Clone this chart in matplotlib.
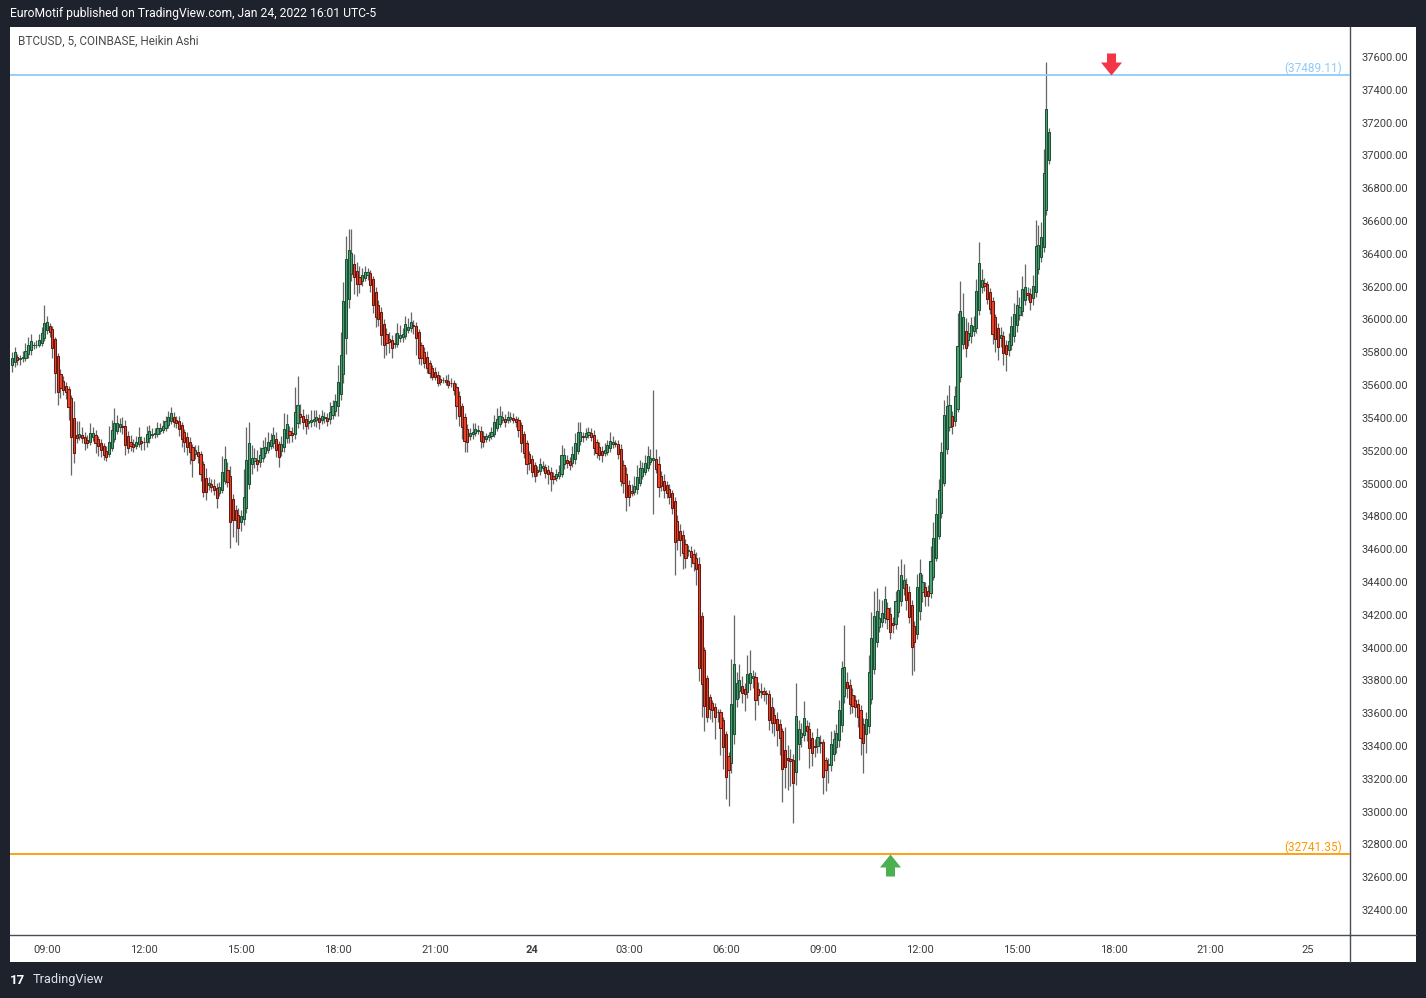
import numpy as np
import pandas as pd
import matplotlib
matplotlib.use('Agg')
import matplotlib.pyplot as plt
from matplotlib.path import Path
from matplotlib.patches import Rectangle
from matplotlib.lines import Line2D
import matplotlib.transforms as mtransforms

plt.rcParams['font.family'] = ['Roboto', 'DejaVu Sans']

# BTCUSD 5 min Heikin Ashi closes, first candle Jan 23 07:55 (one row = one hour)
ha_close = [
    35763, 35800, 35752, 35763, 35770, 35807, 35844, 35870, 35844, 35844, 35874, 35917,
    35978, 35984, 35923, 35825, 35673, 35557, 35581, 35569, 35557, 35465, 35282, 35185,
    35276, 35301, 35276, 35246, 35246, 35307, 35307, 35246, 35228, 35203, 35173, 35160,
    35252, 35325, 35368, 35368, 35362, 35343, 35233, 35215, 35228, 35221, 35252, 35282,
    35246, 35252, 35301, 35319, 35301, 35307, 35337, 35337, 35349, 35380, 35404, 35429,
    35374, 35368, 35331, 35270, 35252, 35221, 35191, 35142, 35203, 35167, 35057, 34947,
    34947, 35002, 34978, 34959, 34910, 34978, 35069, 35148, 35008, 34764, 34776, 34776,
    34727, 34801, 34917, 35142, 35245, 35153, 35155, 35117, 35174, 35214, 35224, 35255,
    35265, 35296, 35204, 35163, 35239, 35330, 35363, 35296, 35296, 35438, 35477, 35403,
    35373, 35350, 35381, 35387, 35391, 35407, 35373, 35411, 35403, 35383, 35438, 35472,
    35503, 35620, 35783, 36111, 36367, 36424, 36403, 36257, 36214, 36214, 36271, 36287,
    36291, 36210, 36088, 36013, 36001, 35905, 35844, 35855, 35865, 35824, 35855, 35919,
    35905, 35909, 35972, 35956, 35986, 35960, 35885, 35767, 35763, 35733, 35702, 35672,
    35651, 35651, 35615, 35621, 35631, 35621, 35600, 35611, 35570, 35474, 35413, 35342,
    35261, 35251, 35306, 35316, 35330, 35326, 35259, 35255, 35289, 35296, 35316, 35377,
    35391, 35411, 35403, 35377, 35403, 35403, 35387, 35377, 35326, 35245, 35188, 35117,
    35123, 35072, 35047, 35068, 35117, 35107, 35066, 35058, 35025, 35025, 35056, 35072,
    35174, 35174, 35123, 35113, 35180, 35245, 35316, 35316, 35285, 35306, 35316, 35281,
    35214, 35188, 35174, 35174, 35204, 35235, 35261, 35251, 35241, 35180, 35017, 35001,
    34920, 34920, 34944, 34985, 35041, 35092, 35092, 35123, 35167, 35153, 35153, 35086,
    34977, 34985, 34960, 34944, 34915, 34852, 34645, 34655, 34655, 34578, 34547, 34594,
    34553, 34517, 34480, 33877, 33775, 33643, 33578, 33623, 33619, 33574, 33608, 33507,
    33391, 33208, 33253, 33653, 33897, 33781, 33801, 33724, 33714, 33836, 33846, 33826,
    33680, 33710, 33734, 33714, 33714, 33558, 33541, 33543, 33497, 33446, 33261, 33273,
    33314, 33308, 33172, 33582, 33501, 33480, 33572, 33492, 33385, 33355, 33395, 33452,
    33419, 33208, 33253, 33288, 33411, 33440, 33476, 33619, 33877, 33879, 33751, 33655,
    33643, 33639, 33578, 33446, 33416, 33564, 33852, 34056, 34192, 34224, 34178, 34212,
    34294, 34172, 34093, 34137, 34285, 34350, 34442, 34411, 34289, 34187, 34004, 34035,
    34367, 34452, 34401, 34316, 34316, 34529, 34666, 34814, 34960, 35190, 35418, 35472,
    35478, 35352, 35533, 35838, 36052, 36013, 35824, 35916, 35966, 35960, 36174, 36342,
    36240, 36206, 36125, 36062, 35910, 35879, 35834, 35905, 35794, 35788, 35869, 35960,
    36031, 36088, 36078, 36186, 36200, 36149, 36108, 36204, 36448, 36454, 36505, 36892,
    37282, 37145,
]
first_open = 35720

# wick length above / below the candle body, in USD
upper_wick = [
    40, 30, 20, 20, 40, 50, 50, 40, 20, 30, 40, 40,
    110, 40, 20, 20, 10, 20, 30, 30, 20, 20, 20, 100,
    90, 80, 50, 30, 30, 60, 40, 30, 20, 20, 20, 30,
    100, 60, 90, 50, 40, 50, 40, 30, 40, 30, 40, 60,
    30, 30, 50, 40, 40, 30, 40, 30, 40, 30, 40, 40,
    30, 20, 30, 20, 20, 30, 30, 20, 30, 40, 20, 20,
    60, 40, 30, 40, 30, 30, 100, 80, 50, 60, 30, 30,
    40, 40, 170, 200, 130, 80, 60, 60, 50, 50, 60, 60,
    40, 50, 40, 20, 50, 100, 60, 30, 40, 150, 180, 60,
    40, 30, 40, 60, 60, 40, 30, 40, 30, 30, 60, 40,
    40, 100, 140, 120, 140, 130, 150, 60, 50, 70, 40, 40,
    20, 20, 20, 30, 30, 30, 30, 40, 40, 30, 60, 60,
    60, 40, 50, 50, 60, 30, 20, 20, 20, 30, 40, 20,
    20, 30, 20, 20, 20, 30, 40, 30, 20, 20, 30, 20,
    20, 30, 30, 50, 40, 30, 30, 30, 20, 20, 30, 40,
    70, 60, 40, 30, 40, 30, 30, 20, 20, 20, 20, 20,
    20, 20, 20, 30, 40, 30, 20, 30, 30, 20, 30, 40,
    60, 40, 30, 30, 50, 60, 60, 60, 30, 30, 30, 30,
    30, 20, 30, 30, 40, 30, 50, 40, 20, 20, 30, 30,
    40, 30, 40, 60, 70, 50, 40, 50, 60, 60, 420, 60,
    50, 30, 40, 30, 30, 20, 20, 40, 40, 30, 30, 30,
    30, 30, 40, 40, 20, 20, 20, 20, 20, 20, 20, 20,
    20, 20, 20, 280, 300, 70, 100, 60, 40, 120, 140, 40,
    30, 40, 50, 30, 20, 20, 60, 40, 40, 30, 20, 140,
    80, 60, 40, 200, 60, 60, 100, 40, 40, 40, 40, 60,
    40, 20, 20, 40, 80, 60, 60, 60, 40, 260, 60, 40,
    40, 30, 30, 30, 40, 40, 100, 160, 150, 140, 120, 80,
    80, 40, 40, 40, 60, 150, 100, 100, 40, 40, 30, 30,
    80, 90, 50, 30, 40, 90, 100, 100, 70, 60, 90, 70,
    120, 30, 60, 200, 180, 150, 80, 70, 50, 60, 70, 130,
    70, 30, 20, 20, 20, 20, 30, 50, 30, 30, 50, 60,
    70, 90, 60, 80, 140, 40, 40, 70, 160, 120, 90, 150,
    290, 20,
]
lower_wick = [
    40, 30, 30, 40, 20, 20, 20, 30, 20, 20, 10, 20,
    20, 20, 30, 60, 120, 80, 60, 30, 40, 80, 230, 60,
    30, 20, 30, 40, 30, 20, 20, 60, 60, 40, 30, 20,
    20, 20, 20, 20, 30, 40, 60, 30, 30, 30, 20, 20,
    40, 50, 30, 30, 20, 20, 20, 20, 20, 20, 20, 20,
    30, 30, 40, 50, 60, 50, 70, 100, 30, 40, 40, 30,
    50, 30, 30, 30, 60, 20, 20, 20, 30, 160, 100, 130,
    100, 60, 40, 30, 30, 60, 40, 40, 30, 20, 20, 20,
    20, 30, 40, 60, 30, 30, 30, 50, 40, 30, 30, 40,
    40, 50, 40, 30, 30, 40, 40, 20, 30, 30, 30, 20,
    30, 60, 40, 50, 100, 60, 40, 100, 70, 50, 30, 20,
    30, 40, 50, 60, 40, 60, 80, 70, 70, 60, 20, 20,
    20, 30, 20, 20, 20, 50, 100, 40, 40, 30, 30, 30,
    20, 20, 20, 20, 20, 20, 20, 20, 30, 80, 60, 70,
    70, 60, 30, 30, 20, 20, 40, 30, 20, 20, 20, 20,
    20, 20, 20, 30, 20, 20, 20, 30, 40, 50, 30, 60,
    40, 30, 40, 20, 20, 20, 30, 60, 70, 30, 20, 20,
    20, 30, 30, 30, 20, 30, 20, 20, 30, 20, 20, 20,
    40, 30, 30, 40, 20, 20, 20, 20, 20, 30, 30, 60,
    90, 60, 20, 20, 30, 20, 20, 20, 20, 20, 330, 20,
    60, 30, 50, 30, 40, 40, 200, 60, 100, 100, 60, 30,
    60, 50, 100, 80, 200, 150, 30, 60, 70, 130, 60, 160,
    130, 130, 220, 60, 60, 50, 40, 60, 100, 40, 40, 60,
    120, 60, 40, 40, 60, 60, 60, 80, 100, 100, 200, 130,
    180, 150, 240, 80, 100, 60, 40, 60, 120, 80, 60, 40,
    60, 100, 130, 110, 40, 40, 40, 40, 40, 40, 60, 60,
    40, 60, 60, 100, 180, 120, 40, 30, 30, 30, 30, 30,
    30, 60, 40, 50, 30, 30, 30, 40, 60, 40, 170, 180,
    30, 60, 60, 60, 60, 30, 20, 20, 20, 30, 20, 30,
    20, 50, 30, 20, 30, 30, 50, 40, 40, 30, 30, 30,
    40, 30, 30, 30, 60, 80, 80, 60, 70, 100, 40, 30,
    40, 40, 30, 30, 30, 30, 50, 40, 30, 30, 30, 30,
    30, 30,
]

resistance = 37489.11
support = 32741.35
price_ticks = list(range(32400, 37601, 200))
time_labels = ['09:00', '12:00', '15:00', '18:00', '21:00', '24', '03:00',
               '06:00', '09:00', '12:00', '15:00', '18:00', '21:00', '25']

W, H = 1426, 998
BG = '#1e222d'

start = pd.Timestamp('2022-01-23 07:55')
step = pd.Timedelta('5min')
def pos(t):
    return (pd.Timestamp(t) - start) / step

c = np.array(ha_close, dtype=float)
n = len(c)
idx = np.arange(n)
o = np.empty(n)
o[0] = first_open
for i in range(1, n):
    o[i] = (o[i - 1] + c[i - 1]) / 2
top = np.maximum(o, c)
bot = np.minimum(o, c)
hi = top + np.array(upper_wick)
lo = bot - np.array(lower_wick)
rising = c >= o

fig = plt.figure(figsize=(W / 100, H / 100), dpi=100, facecolor=BG)
fig.patches.append(Rectangle((10 / W, 1 - 962 / H), 1406 / W, 935 / H,
                             transform=fig.transFigure, facecolor='white',
                             edgecolor='none', zorder=-5))
ax = fig.add_axes([10 / W, 1 - 935 / H, 1340 / W, 908 / H])
ax.set_zorder(2)
ax.set_facecolor('white')

# candles
ax.vlines(idx, lo, hi, color='#666666', lw=0.9, zorder=2)
ax.bar(idx[rising], (top - bot)[rising], bottom=bot[rising], width=0.8,
       color='#52a077', edgecolor='#1a5233', linewidth=0.75, zorder=3)
ax.bar(idx[~rising], (top - bot)[~rising], bottom=bot[~rising], width=0.8,
       color='#e5452d', edgecolor='#6a180e', linewidth=0.75, zorder=3)

# levels
ax.axhline(resistance, color='#90caf9', lw=1.3, zorder=4)
ax.axhline(support, color='#ff9800', lw=1.3, zorder=4)
blend = mtransforms.blended_transform_factory(ax.transAxes, ax.transData)
ax.annotate(f'({resistance:.2f})', xy=(0.994, resistance), xycoords=blend,
            xytext=(0, 0), textcoords='offset points', ha='right', va='bottom',
            fontsize=8.5, color='#90caf9')
ax.annotate(f'({support:.2f})', xy=(0.994, support), xycoords=blend,
            xytext=(0, 0), textcoords='offset points', ha='right', va='bottom',
            fontsize=8.5, color='#ff9800')

# arrows (tip at the marker origin)
down_arrow = Path([(0, 0), (10.5, 13), (4.5, 13), (4.5, 22), (-4.5, 22),
                   (-4.5, 13), (-10.5, 13), (0, 0)], closed=True)
up_arrow = Path([(x, -y) for x, y in down_arrow.vertices], closed=True)
ax.plot([pos('2022-01-24 17:55')], [resistance], marker=down_arrow,
        markersize=31.7, color='#f23645', mew=0, ls='none', zorder=5)
ax.plot([pos('2022-01-24 11:05')], [support], marker=up_arrow,
        markersize=31.7, color='#4caf50', mew=0, ls='none', zorder=5)

# axes
ax.set_xlim(-0.74, 496.7)
ax.set_ylim(32247.6, 37782.9)
tick_times = pd.date_range('2022-01-23 09:00', '2022-01-25 00:00', freq='3h')
ax.set_xticks([pos(t) for t in tick_times])
ax.set_xticklabels(time_labels)
for lab in ax.get_xticklabels():
    if lab.get_text() == '24':
        lab.set_fontweight('bold')
ax.yaxis.tick_right()
ax.set_yticks(price_ticks)
ax.set_yticklabels([f'{p:.2f}' for p in price_ticks])
ax.tick_params(axis='y', length=0, pad=8, labelsize=8, labelcolor='#3d3d3d')
ax.tick_params(axis='x', length=0, pad=7, labelsize=8, labelcolor='#3d3d3d')
for side in ['left', 'top']:
    ax.spines[side].set_visible(False)
for side in ['right', 'bottom']:
    ax.spines[side].set_color('#4a4d57')
    ax.spines[side].set_linewidth(1)
fig.lines.append(Line2D([1350 / W, 1350 / W], [1 - 935 / H, 1 - 962 / H],
                        transform=fig.transFigure, color='#4a4d57', lw=1))
fig.lines.append(Line2D([1350 / W, 1416 / W], [1 - 935 / H, 1 - 935 / H],
                        transform=fig.transFigure, color='#4a4d57', lw=1))

# header, symbol, footer
fig.text(10 / W, 1 - 14 / H, 'EuroMotif published on TradingView.com, Jan 24, 2022 16:01 UTC-5',
         color='white', fontsize=8.7, va='center', ha='left')
fig.text(18 / W, 1 - 41 / H, 'BTCUSD, 5, COINBASE, Heikin Ashi',
         color='#4a4a4a', fontsize=8.5, va='center', ha='left', zorder=10)
fig.text(10 / W, 1 - 980 / H, '17', color='white', fontsize=9.5, fontweight='bold',
         va='center', ha='left')
fig.text(33 / W, 1 - 980 / H, 'TradingView', color='#e0e3eb', fontsize=9.2,
         va='center', ha='left')

fig.savefig('out.png', dpi=100, facecolor=BG)
